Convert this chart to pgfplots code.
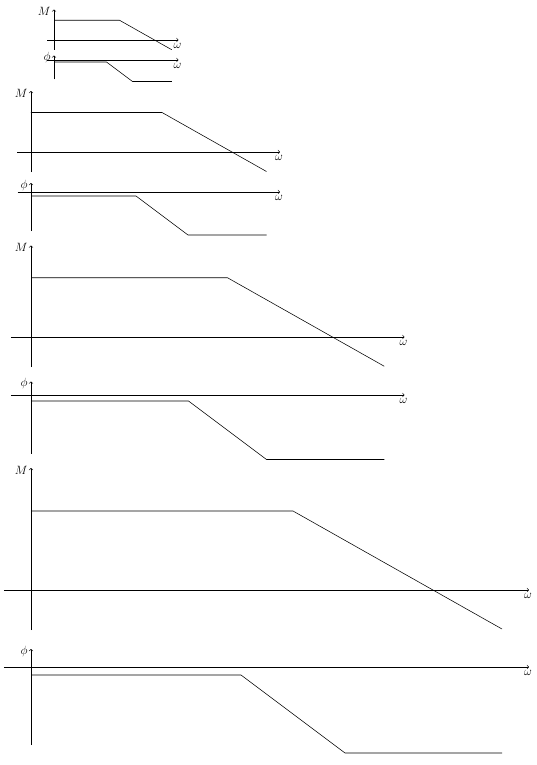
\documentclass[border=0pt]{standalone}
\usepackage{pgfplots}
\pgfplotsset{compat=1.18}
\pgfplotsset{
  bode/.style={
    axis lines=middle, xtick=\empty, ytick=\empty, clip=false,
    enlargelimits=false,
    x axis line style={->, line width=0.6pt}, y axis line style={->, line width=0.6pt},
    every inner x axis line/.append style={->},
    every inner y axis line/.append style={->},
    xmin=-6.75, xmax=124.5,
    xlabel={$\omega$},
    xlabel style={at={(axis cs:124.5,0)}, anchor=north, font=\large, inner sep=3.5pt, xshift=-1pt},
    anchor=south west,
  },
  magn/.style={bode, ymin=-10, ymax=30.5, ylabel={$M$},
    ylabel style={at={(axis cs:0,30.5)}, anchor=east, font=\large, rotate=0, yshift=-2pt}},
  phas/.style={bode, ymin=-19.5, ymax=4.5, ylabel={$\phi$},
    ylabel style={at={(axis cs:0,4.5)}, anchor=east, font=\large, rotate=0, yshift=-2pt}},
  curve/.style={black, line width=0.55pt, mark=none},
}
\begin{document}
\begin{tikzpicture}
\path (0,0) rectangle (537pt,-765pt);
% diagram 1 (scale 1)
\begin{axis}[magn, x=1pt, y=1pt, at={(47.25pt,-50pt)}]
\addplot[curve] coordinates {(0,19.75) (65.5,19.75) (117.75,-9.75)};
\end{axis}
\begin{axis}[phas, x=1pt, y=1pt, at={(47.25pt,-79.5pt)}]
\addplot[curve] coordinates {(0,-2) (52.5,-2) (78.5,-21.5) (117.75,-21.5)};
\end{axis}
% diagram 2 (scale 2)
\begin{axis}[magn, x=2pt, y=2pt, at={(17.5pt,-172pt)}]
\addplot[curve] coordinates {(0,19.75) (65.5,19.75) (117.75,-9.75)};
\end{axis}
\begin{axis}[phas, x=2pt, y=2pt, at={(17.5pt,-231pt)}]
\addplot[curve] coordinates {(0,-2) (52.5,-2) (78.5,-21.5) (117.75,-21.5)};
\end{axis}
% diagram 3 (scale 3)
\begin{axis}[magn, x=3pt, y=3pt, at={(10.75pt,-367pt)}]
\addplot[curve] coordinates {(0,19.75) (65.5,19.75) (117.75,-9.75)};
\end{axis}
\begin{axis}[phas, x=3pt, y=3pt, at={(10.75pt,-453.5pt)}]
\addplot[curve] coordinates {(0,-2) (52.5,-2) (78.5,-21.5) (117.75,-21.5)};
\end{axis}
% diagram 4 (scale 4)
\begin{axis}[magn, x=4pt, y=4pt, at={(4pt,-630pt)}]
\addplot[curve] coordinates {(0,19.75) (65.5,19.75) (117.75,-9.75)};
\end{axis}
\begin{axis}[phas, x=4pt, y=4pt, at={(4pt,-745pt)}]
\addplot[curve] coordinates {(0,-2) (52.5,-2) (78.5,-21.5) (117.75,-21.5)};
\end{axis}
\end{tikzpicture}
\end{document}
